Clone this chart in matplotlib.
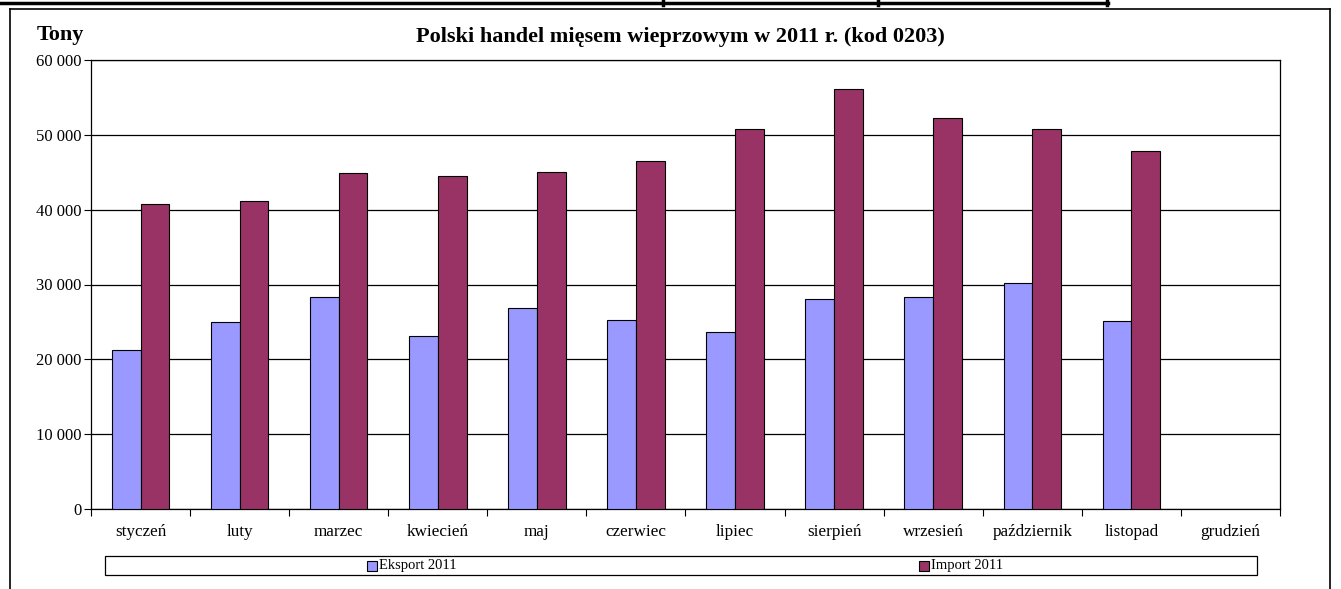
import matplotlib
matplotlib.use('Agg')
import matplotlib.pyplot as plt
import numpy as np
from matplotlib.patches import Rectangle
from matplotlib.lines import Line2D

plt.rcParams['font.family'] = ['Liberation Serif', 'DejaVu Serif']

months = ['styczeń', 'luty', 'marzec', 'kwiecień', 'maj', 'czerwiec', 'lipiec',
          'sierpień', 'wrzesień', 'październik', 'listopad', 'grudzień']
eksport = [21200, 25000, 28350, 23150, 26900, 25300, 23700, 28100, 28300, 30200, 25100, np.nan]
importy = [40800, 41100, 44850, 44450, 45000, 46550, 50750, 56150, 52200, 50750, 47800, np.nan]
yticks = [0, 10000, 20000, 30000, 40000, 50000, 60000]
ytick_labels = ['0', '10 000', '20 000', '30 000', '40 000', '50 000', '60 000']

W, H = 1341, 589
fig = plt.figure(figsize=(W / 100, H / 100), dpi=100)

def fx(x):
    return x / W

def fy(y):
    return 1 - y / H

# outer frame of the chart
fig.add_artist(Line2D([fx(10), fx(1330)], [fy(9), fy(9)], color='black', lw=1.2))
fig.add_artist(Line2D([fx(10), fx(10)], [fy(9), 0], color='black', lw=1.2))
fig.add_artist(Line2D([fx(1330), fx(1330)], [fy(9), 0], color='black', lw=1.2))
# strip at the very top (part of a table above)
fig.add_artist(Line2D([0, fx(1108)], [fy(3), fy(3)], color='black', lw=2.5))
for xv in [663, 878, 1107]:
    fig.add_artist(Line2D([fx(xv), fx(xv)], [fy(0), fy(5)], color='black', lw=2.5))

ax = fig.add_axes([fx(91), fy(509), fx(1280) - fx(91), (509 - 60) / H])

x = np.arange(len(months))
bw = 0.29
ax.bar(x - bw / 2, eksport, bw, color='#9999FF', edgecolor='black', lw=0.8,
       label='Eksport 2011', zorder=3)
ax.bar(x + bw / 2, importy, bw, color='#993366', edgecolor='black', lw=0.8,
       label='Import 2011', zorder=3)

ax.set_xlim(-0.5, len(months) - 0.5)
ax.set_ylim(0, 60000)
ax.set_yticks(yticks)
ax.set_yticklabels(ytick_labels, fontsize=12)
ax.yaxis.grid(True, color='black', lw=0.9, zorder=0)
ax.set_xticks(np.arange(len(months) + 1) - 0.5)
ax.set_xticklabels([])
ax.set_xticks(x, minor=True)
ax.set_xticklabels(months, minor=True, fontsize=12.3)
ax.tick_params(axis='x', which='minor', length=0, pad=11)
ax.tick_params(axis='x', which='major', length=5, width=0.8)
ax.tick_params(axis='y', length=5, width=0.8, pad=2)
for s in ax.spines.values():
    s.set_linewidth(0.9)

fig.text(fx(680), fy(37), 'Polski handel mięsem wieprzowym w 2011 r. (kod 0203)',
         ha='center', va='center', fontsize=16, fontweight='bold')
fig.text(fx(37), fy(35), 'Tony', ha='left', va='center', fontsize=16, fontweight='bold')

# legend box
fig.add_artist(Rectangle((fx(105), fy(575)), fx(1257) - fx(105), (575 - 556) / H,
                         fill=False, edgecolor='black', lw=0.9))
handles, labels = ax.get_legend_handles_labels()
for h, lab, xp in zip(handles, labels, [367, 919]):
    fig.add_artist(Rectangle((fx(xp), fy(571)), 10 / W, 10 / H,
                             facecolor=h.patches[0].get_facecolor(), edgecolor='black', lw=0.8))
    fig.text(fx(xp + 12), fy(565.5), lab, ha='left', va='center', fontsize=10.5)

fig.savefig('out.png', dpi=100)
